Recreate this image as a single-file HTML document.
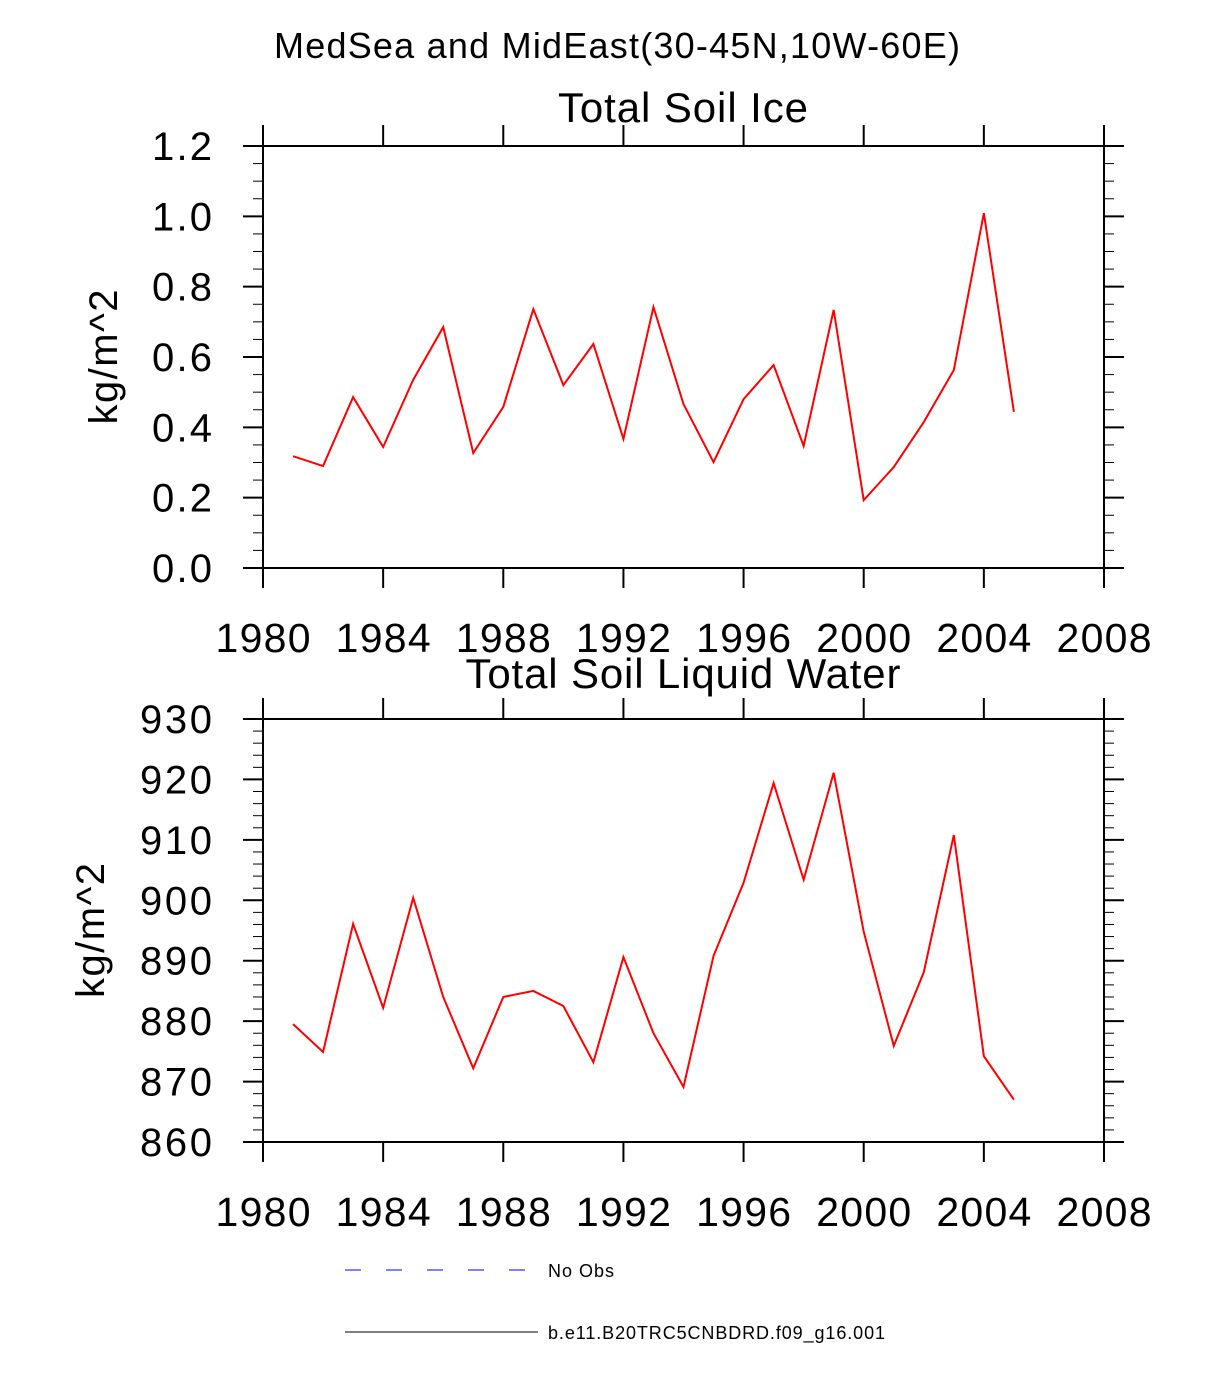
<!DOCTYPE html>
<html><head><meta charset="utf-8"><style>
html,body{margin:0;padding:0;background:#fff}
svg{display:block;font-family:"Liberation Sans",sans-serif}
</style></head><body>
<svg id="chart" width="1224" height="1400" viewBox="0 0 1224 1400">
<text x="617" y="58" font-size="36" text-anchor="middle" textLength="686">MedSea and MidEast(30-45N,10W-60E)</text>
<g id="p1"></g>
<g id="p2"></g>
<g>
<line x1="345" y1="1270" x2="538" y2="1270" stroke="#00f" stroke-width="1" stroke-dasharray="16,25"/>
<text x="548" y="1277" font-size="18" textLength="66">No Obs</text>
<line x1="345" y1="1332" x2="538" y2="1332" stroke="#000" stroke-width="1"/>
<text x="548" y="1339" font-size="18" textLength="337">b.e11.B20TRC5CNBDRD.f09_g16.001</text>
</g>
</svg>
<script>
const years = [1981,1982,1983,1984,1985,1986,1987,1988,1989,1990,1991,1992,1993,1994,1995,1996,1997,1998,1999,2000,2001,2002,2003,2004,2005];
const iceValues = [0.318,0.29,0.486,0.344,0.535,0.685,0.327,0.458,0.736,0.52,0.637,0.367,0.742,0.466,0.301,0.48,0.577,0.347,0.734,0.193,0.287,0.415,0.563,1.009,0.444];
const liquidValues = [879.5,874.9,896.1,882.2,900.4,884.0,872.2,884.0,885.0,882.5,873.2,890.6,878.0,869.1,890.8,902.9,919.4,903.4,921.1,894.8,875.9,888.1,910.8,874.2,867.0];
const xTicks = [1980,1984,1988,1992,1996,2000,2004,2008];
const iceTicks = [0,0.2,0.4,0.6,0.8,1.0,1.2];
const liquidTicks = [860,870,880,890,900,910,920,930];
const NS="http://www.w3.org/2000/svg";
function mk(parent,tag,attrs){const e=document.createElementNS(NS,tag);for(const k in attrs)e.setAttribute(k,attrs[k]);parent.appendChild(e);return e;}
function panel(g,top,bottom,ymin,ymax,yTicks,minorStep,dec,values,title,titleY,titleW,ylabX){
  const L=263,R=1104;
  const xs=v=>L+(v-1980)/28*(R-L);
  const ys=v=>bottom-(v-ymin)/(ymax-ymin)*(bottom-top);
  const t=mk(g,'text',{x:683,y:titleY,'font-size':42,'text-anchor':'middle',textLength:titleW});t.textContent=title;
  
  
  const f=mk(g,'rect',{x:L,y:top,width:R-L,height:bottom-top,fill:'none',stroke:'#000','stroke-width':2});
  
  
  for(let v=ymin;v<=ymax+1e-9;v+=minorStep){const y=ys(v);mk(g,'line',{x1:L-10,x2:L,y1:y,y2:y,stroke:'#000','stroke-width':1});mk(g,'line',{x1:R,x2:R+10,y1:y,y2:y,stroke:'#000','stroke-width':1});}
  yTicks.forEach(v=>{const y=ys(v);mk(g,'line',{x1:L-20,x2:L,y1:y,y2:y,stroke:'#000','stroke-width':2});mk(g,'line',{x1:R,x2:R+20,y1:y,y2:y,stroke:'#000','stroke-width':2});
    const s=v.toFixed(dec);
    let w=0;for(const c of s)w+=(c==='.'?12:24);
    const tx=mk(g,'text',{x:212,y:y+14,'font-size':40,'text-anchor':'end',textLength:w});tx.textContent=s;
    
    });
  xTicks.forEach(v=>{const x=xs(v);mk(g,'line',{x1:x,x2:x,y1:bottom,y2:bottom+20,stroke:'#000','stroke-width':2});mk(g,'line',{x1:x,x2:x,y1:top-21,y2:top,stroke:'#000','stroke-width':2});
    const tx=mk(g,'text',{x:x,y:bottom+84,'font-size':41,'text-anchor':'middle',textLength:95});tx.textContent=v;
    
    });
  const yl=mk(g,'text',{x:0,y:0,'font-size':40,'text-anchor':'middle',textLength:135,transform:`translate(${ylabX},${(top+bottom)/2}) rotate(-90)`});yl.textContent='kg/m^2';
  
  
  const p=mk(g,'polyline',{points:years.map((yr,i)=>xs(yr)+','+ys(values[i])).join(' '),fill:'none',stroke:'#f00','stroke-width':2});
  
  
}
panel(document.getElementById('p1'),146,568,0,1.2,iceTicks,0.05,1,iceValues,'Total Soil Ice',122,250,117);
panel(document.getElementById('p2'),719,1142,860,930,liquidTicks,2,0,liquidValues,'Total Soil Liquid Water',688,435,104);
</script>
</body></html>
